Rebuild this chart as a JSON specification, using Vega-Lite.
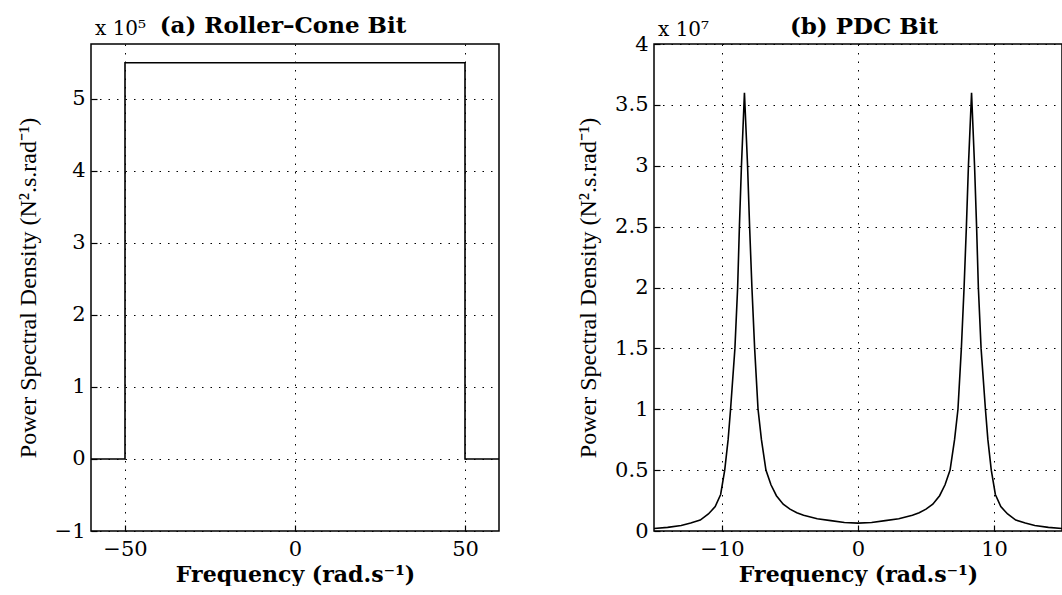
{
  "$schema": "https://vega.github.io/schema/vega-lite/v6.json",
  "background": "white",
  "padding": {"left": 15, "top": 14, "right": 0, "bottom": 0},
  "bounds": "flush",
  "spacing": 155,
  "config": {
    "view": {"stroke": "black", "strokeWidth": 1.5},
    "axis": {
      "grid": true, "gridColor": "black", "gridDash": [1.5, 7], "gridWidth": 1,
      "domain": false, "ticks": true, "tickSize": -6, "tickColor": "black", "tickWidth": 1.2,
      "labelFont": "DejaVu Serif", "labelFontSize": 21, "labelColor": "black", "labelPadding": 12,
      "titleColor": "black"
    },
    "axisX": {"titleFont": "DejaVu Serif", "titleFontWeight": "bold", "titleFontSize": 22, "titlePadding": 5, "labelPadding": 13},
    "axisY": {"titleFont": "Liberation Serif", "titleFontWeight": "normal", "titleFontSize": 24},
    "title": {"font": "DejaVu Serif", "fontWeight": "bold", "fontSize": 23, "color": "black", "offset": -19}
  },
  "hconcat": [
    {
      "width": 408,
      "height": 487,
      "title": {"text": "(a) Roller–Cone Bit", "dx": -12},
      "layer": [
        {
          "data": {"values": [
            {"frequency": -60, "psd": 0},
            {"frequency": -50, "psd": 550000},
            {"frequency": 50, "psd": 0},
            {"frequency": 60, "psd": 0}
          ]},
          "mark": {"type": "line", "interpolate": "step-after", "color": "black", "strokeWidth": 1.6},
          "encoding": {
            "x": {"field": "frequency", "type": "quantitative",
                  "scale": {"domain": [-60, 60], "nice": false, "zero": false},
                  "axis": {"values": [-50, 0, 50], "title": "Frequency (rad.s⁻¹)"}},
            "y": {"field": "psd", "type": "quantitative",
                  "scale": {"domain": [-100000, 576000], "nice": false, "zero": false},
                  "axis": {"values": [-100000, 0, 100000, 200000, 300000, 400000, 500000],
                           "labelExpr": "format(datum.value / 1e5, '')",
                           "title": "Power Spectral Density (N².s.rad⁻¹)", "titlePadding": 14}}
          }
        },
        {
          "data": {"values": [{"label": "x 10⁵"}]},
          "mark": {"type": "text", "align": "left", "baseline": "alphabetic", "dx": 4, "dy": -9, "font": "DejaVu Serif", "fontSize": 20, "color": "black"},
          "encoding": {
            "x": {"datum": -60},
            "y": {"datum": 576000},
            "text": {"field": "label"}
          }
        }
      ]
    },
    {
      "width": 408,
      "height": 487,
      "title": {"text": "(b) PDC Bit", "dx": 6},
      "layer": [
        {
          "data": {"values": [
            {"frequency": -15, "psd": 200000},
            {"frequency": -14, "psd": 300000},
            {"frequency": -13, "psd": 450000},
            {"frequency": -12.3, "psd": 650000},
            {"frequency": -11.6, "psd": 900000},
            {"frequency": -11, "psd": 1400000},
            {"frequency": -10.5, "psd": 2000000},
            {"frequency": -10.1, "psd": 3000000},
            {"frequency": -9.8, "psd": 5000000},
            {"frequency": -9.55, "psd": 7500000},
            {"frequency": -9.37, "psd": 10000000},
            {"frequency": -9.05, "psd": 15000000},
            {"frequency": -8.85, "psd": 20000000},
            {"frequency": -8.72, "psd": 25000000},
            {"frequency": -8.57, "psd": 30000000},
            {"frequency": -8.35, "psd": 36000000},
            {"frequency": -8.12, "psd": 30000000},
            {"frequency": -7.97, "psd": 25000000},
            {"frequency": -7.8, "psd": 20000000},
            {"frequency": -7.6, "psd": 15000000},
            {"frequency": -7.35, "psd": 10000000},
            {"frequency": -7.1, "psd": 7500000},
            {"frequency": -6.77, "psd": 5000000},
            {"frequency": -6.4, "psd": 3800000},
            {"frequency": -6, "psd": 2900000},
            {"frequency": -5.5, "psd": 2200000},
            {"frequency": -5, "psd": 1800000},
            {"frequency": -4.5, "psd": 1500000},
            {"frequency": -4, "psd": 1300000},
            {"frequency": -3, "psd": 1000000},
            {"frequency": -2, "psd": 850000},
            {"frequency": -1, "psd": 700000},
            {"frequency": 0, "psd": 650000},
            {"frequency": 1, "psd": 700000},
            {"frequency": 2, "psd": 850000},
            {"frequency": 3, "psd": 1000000},
            {"frequency": 4, "psd": 1300000},
            {"frequency": 4.5, "psd": 1500000},
            {"frequency": 5, "psd": 1800000},
            {"frequency": 5.5, "psd": 2200000},
            {"frequency": 6, "psd": 2900000},
            {"frequency": 6.4, "psd": 3800000},
            {"frequency": 6.77, "psd": 5000000},
            {"frequency": 7.1, "psd": 7500000},
            {"frequency": 7.35, "psd": 10000000},
            {"frequency": 7.6, "psd": 15000000},
            {"frequency": 7.8, "psd": 20000000},
            {"frequency": 7.97, "psd": 25000000},
            {"frequency": 8.12, "psd": 30000000},
            {"frequency": 8.35, "psd": 36000000},
            {"frequency": 8.57, "psd": 30000000},
            {"frequency": 8.72, "psd": 25000000},
            {"frequency": 8.85, "psd": 20000000},
            {"frequency": 9.05, "psd": 15000000},
            {"frequency": 9.37, "psd": 10000000},
            {"frequency": 9.55, "psd": 7500000},
            {"frequency": 9.8, "psd": 5000000},
            {"frequency": 10.1, "psd": 3000000},
            {"frequency": 10.5, "psd": 2000000},
            {"frequency": 11, "psd": 1400000},
            {"frequency": 11.6, "psd": 900000},
            {"frequency": 12.3, "psd": 650000},
            {"frequency": 13, "psd": 450000},
            {"frequency": 14, "psd": 300000},
            {"frequency": 15, "psd": 200000}
          ]},
          "mark": {"type": "line", "color": "black", "strokeWidth": 1.6},
          "encoding": {
            "x": {"field": "frequency", "type": "quantitative",
                  "scale": {"domain": [-15, 15], "nice": false, "zero": false},
                  "axis": {"values": [-10, 0, 10], "title": "Frequency (rad.s⁻¹)"}},
            "y": {"field": "psd", "type": "quantitative",
                  "scale": {"domain": [0, 40000000], "nice": false},
                  "axis": {"values": [0, 5000000, 10000000, 15000000, 20000000, 25000000, 30000000, 35000000, 40000000],
                           "labelExpr": "format(datum.value / 1e7, '')",
                           "title": "Power Spectral Density (N².s.rad⁻¹)", "titlePadding": 14}}
          }
        },
        {
          "data": {"values": [{"label": "x 10⁷"}]},
          "mark": {"type": "text", "align": "left", "baseline": "alphabetic", "dx": 4, "dy": -8, "font": "DejaVu Serif", "fontSize": 20, "color": "black"},
          "encoding": {
            "x": {"datum": -15},
            "y": {"datum": 40000000},
            "text": {"field": "label"}
          }
        }
      ]
    }
  ]
}
